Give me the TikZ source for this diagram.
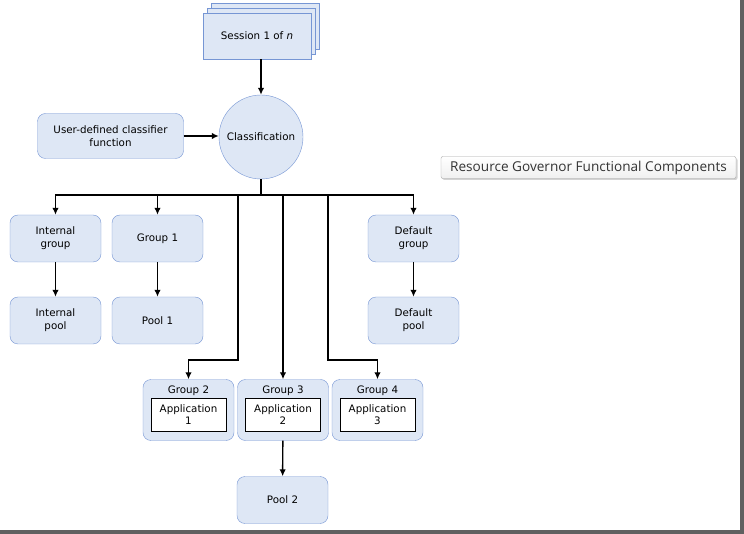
\documentclass[tikz,border=0pt]{standalone}
\usepackage{fontspec}
\setmainfont{DejaVu Sans}
\newfontfamily\titlefont{Open Sans}
\usepackage{tikz}
\usetikzlibrary{arrows, arrows.meta, positioning, shapes, calc, shadows}
\definecolor{rgfill}{RGB}{222, 231, 245}
\definecolor{rgedge}{RGB}{118, 150, 212}
\definecolor{framegray}{RGB}{96, 96, 96}

\begin{document}
\begin{tikzpicture}[x=1pt, y=-1pt,
    box/.style={draw=rgedge, fill=rgfill, rounded corners=8pt, minimum width=91pt,
        minimum height=47pt, align=center, inner sep=0pt, font=\fontsize{10.3}{13}\selectfont},
    sheet/.style={draw=rgedge, fill=rgfill, minimum width=108pt, minimum height=46pt},
    grpbox/.style={box, minimum height=61pt},
    appbox/.style={draw=black, fill=white, minimum width=75pt, minimum height=33pt,
        align=center, inner sep=0pt, font=\fontsize{10.3}{12.5}\selectfont},
    link/.style={-{Latex[length=7pt, width=6.5pt]}, line width=1.4pt}
]
\useasboundingbox (0,0) rectangle (744,534);
% screenshot frame
\fill[framegray] (740,0) rectangle (744,534);
\fill[framegray] (0,530) rectangle (744,534);

% sessions
\node[sheet] (sess3) at (265,26.5) {};
\node[sheet] (sess2) at (261,31) {};
\node[sheet, font=\fontsize{10.3}{13}\selectfont] (sess) at (257,36) {Session 1 of \emph{n}};

\node[draw=rgedge, fill=rgfill, circle, minimum size=84pt, inner sep=0pt,
    font=\fontsize{10.3}{13}\selectfont] (cls) at (261,137) {Classification};
\node[box, minimum width=146pt, minimum height=45pt] (udf) at (110.5,136)
    {User-defined classifier\\function};

% groups and pools
\node[box] (igrp) at (55.5,238.5) {Internal\\group};
\node[box] (grp1) at (157.5,238.5) {Group 1};
\node[box] (dgrp) at (413.5,238.5) {Default\\group};
\node[box] (ipool) at (55.5,320.5) {Internal\\pool};
\node[box] (pool1) at (157.5,320.5) {Pool 1};
\node[box] (dpool) at (413.5,320.5) {Default\\pool};

\node[grpbox] (grp2) at (188.5,410) {};
\node[grpbox] (grp3) at (283,410) {};
\node[grpbox] (grp4) at (377.5,410) {};
\foreach \g/\n in {grp2/2, grp3/3, grp4/4} {
    \node[font=\fontsize{10.3}{13}\selectfont] (\g t) at ($(\g.north)+(0,11)$) {Group \n};
}
\node[appbox] (app1) at ($(grp2.center)+(0,4.5)$) {Application\\1};
\node[appbox] (app2) at ($(grp3.center)+(0,4.5)$) {Application\\2};
\node[appbox] (app3) at ($(grp4.center)+(0,4.5)$) {Application\\3};
\node[box] (pool2) at (282.5,500) {Pool 2};

% title tag
\node[draw=gray!70, rounded corners=2pt, top color=white, bottom color=gray!12,
    drop shadow={shadow xshift=1.5pt, shadow yshift=-1.5pt, opacity=0.35},
    minimum width=295pt, minimum height=22pt, inner sep=0pt,
    font=\titlefont\fontsize{13.6}{15}\selectfont, text=black!80] (tag) at (588.5,167.5)
    {Resource Governor Functional Components};

% connectors
\coordinate (split) at (261,195);
\coordinate (bendL) at (238,360);
\coordinate (bendR) at (328,360);

\draw[link] (cls.north |- sess.south) -- (cls.north);
\draw[link] (udf.east) -- (cls.west |- udf.east);
\draw[line width=1.4pt] (cls.south) -- (split);
\draw[link] (split) -| (igrp.north);
\draw[link] (split) -| (grp1.north);
\draw[link] (split) -| (dgrp.north);
\draw[link] (split) -| (grp3.north);
\draw[link] (split) -| (bendL) -| (grp2.north);
\draw[link] (split) -| (bendR) -| (grp4.north);
\draw[link] (igrp) -- (ipool);
\draw[link] (grp1) -- (pool1);
\draw[link] (dgrp) -- (dpool);
\draw[link] (grp3) -- (pool2);
\end{tikzpicture}
\end{document}
